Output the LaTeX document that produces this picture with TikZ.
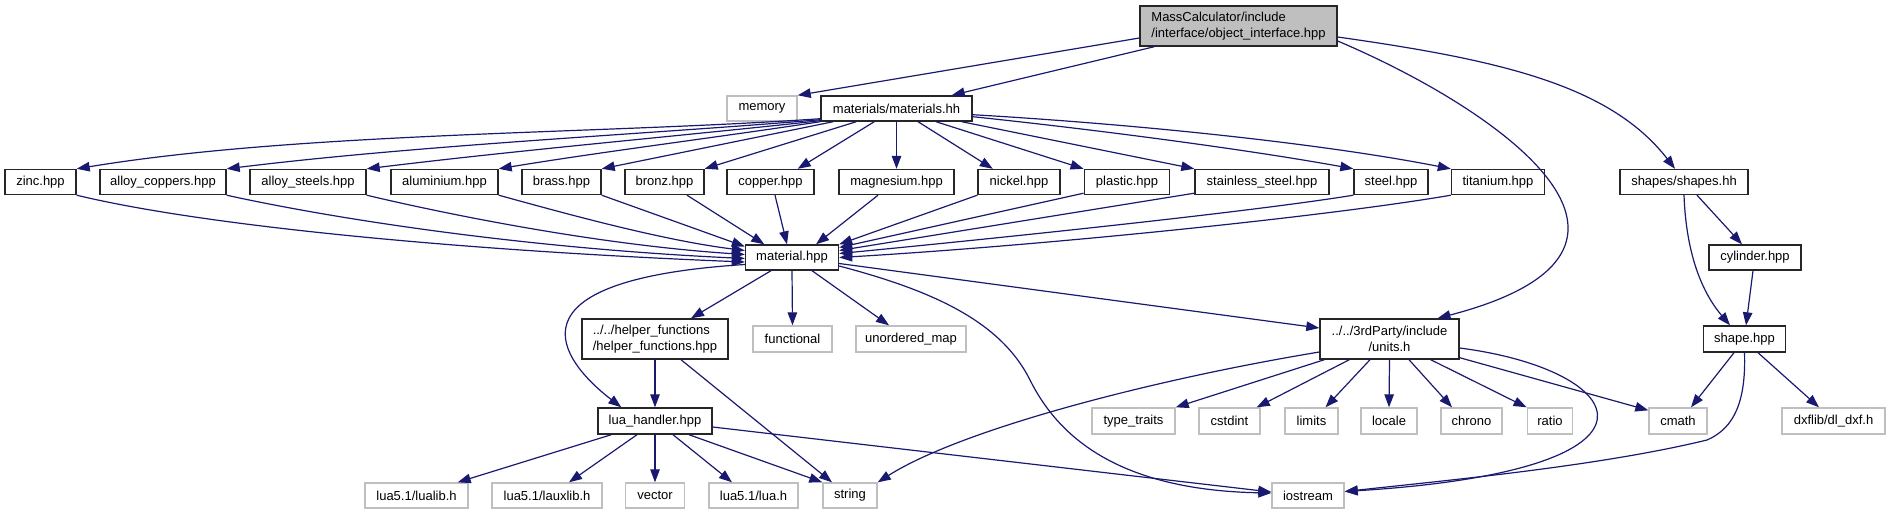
\documentclass[tikz,border=0pt]{standalone}
\usepackage{fontspec}
\setmainfont{Liberation Sans}
\usetikzlibrary{arrows.meta}
\definecolor{edgeblue}{HTML}{191970}
\definecolor{greyfill}{HTML}{BFBFBF}
\definecolor{greyline}{HTML}{BFBFBF}
\tikzset{
  fbox/.style={draw=black!85, line width=1.4pt, fill=white, inner sep=0pt, font=\fontsize{13}{16}\selectfont, text=black, minimum height=25pt},
  gbox/.style={fbox, draw=greyline},
  rbox/.style={fbox, fill=greyfill},
  dep/.style={draw=edgeblue, line width=1.2pt, -{Triangle[length=13pt,width=9.5pt]}},
}
\begin{document}
\begin{tikzpicture}[x=1pt,y=-1pt]
\useasboundingbox (0,0) rectangle (1892,515);
% row 0
\node[rbox, minimum width=197pt, minimum height=40pt, align=left] (root) at (1238.5,26) {MassCalculator/include\\/interface/object\_interface.hpp};
% row 1
\node[gbox, minimum width=70pt] (memory) at (762,108.5) {memory};
\node[fbox, minimum width=151pt] (materials) at (896.5,108.5) {materials/materials.hh};
% row 2
\node[fbox, minimum width=71pt] (zinc) at (40.5,182) {zinc.hpp};
\node[fbox, minimum width=126pt] (acop) at (163,182) {alloy\_coppers.hpp};
\node[fbox, minimum width=116pt] (asteel) at (308,182) {alloy\_steels.hpp};
\node[fbox, minimum width=107pt] (alu) at (444.5,182) {aluminium.hpp};
\node[fbox, minimum width=79pt] (brass) at (561.5,182) {brass.hpp};
\node[fbox, minimum width=79pt] (bronz) at (664.5,182) {bronz.hpp};
\node[fbox, minimum width=87pt] (copper) at (770.5,182) {copper.hpp};
\node[fbox, minimum width=115pt] (magn) at (896.5,182) {magnesium.hpp};
\node[fbox, minimum width=82pt] (nickel) at (1019,182) {nickel.hpp};
\node[fbox, minimum width=85.5pt] (plastic) at (1127,182) {plastic.hpp};
\node[fbox, minimum width=134pt] (stain) at (1262,182) {stainless\_steel.hpp};
\node[fbox, minimum width=74pt] (steel) at (1391,182) {steel.hpp};
\node[fbox, minimum width=93pt] (titan) at (1498,182) {titanium.hpp};
\node[fbox, minimum width=128pt] (shapes) at (1684,182) {shapes/shapes.hh};
% row 3
\node[fbox, minimum width=93pt] (material) at (792,257.5) {material.hpp};
\node[fbox, minimum width=92pt] (cyl) at (1755,257.5) {cylinder.hpp};
% row 4
\node[fbox, minimum width=146pt, minimum height=40pt, align=left] (helper) at (655,339) {../../helper\_functions\\/helper\_functions.hpp};
\node[gbox, minimum width=79pt, minimum height=26pt] (functional) at (792.5,339) {functional};
\node[gbox, minimum width=110pt, minimum height=26pt] (umap) at (911,339) {unordered\_map};
\node[fbox, minimum width=139pt, minimum height=40pt, align=center] (units) at (1389.5,339) {../../3rdParty/include\\/units.h};
\node[fbox, minimum width=82pt, minimum height=26pt] (shape) at (1744.5,339) {shape.hpp};
% row 5
\node[fbox, minimum width=114pt, minimum height=26pt] (lua) at (655,421) {lua\_handler.hpp};
\node[gbox, minimum width=83pt, minimum height=26pt] (ttraits) at (1133.5,421) {type\_traits};
\node[gbox, minimum width=61pt, minimum height=26pt] (cstdint) at (1229.5,421) {cstdint};
\node[gbox, minimum width=53pt, minimum height=26pt] (limits) at (1311.5,421) {limits};
\node[gbox, minimum width=56pt, minimum height=26pt] (locale) at (1389,421) {locale};
\node[gbox, minimum width=61pt, minimum height=26pt] (chrono) at (1471.5,421) {chrono};
\node[gbox, minimum width=45.5pt, minimum height=26pt] (ratio) at (1550,421) {ratio};
\node[gbox, minimum width=58pt, minimum height=26pt] (cmath) at (1678,421) {cmath};
\node[gbox, minimum width=103pt, minimum height=26pt] (dxf) at (1833.5,421) {dxflib/dl\_dxf.h};
% row 6
\node[gbox, minimum width=103pt] (lualib) at (416.5,495.5) {lua5.1/lualib.h};
\node[gbox, minimum width=110pt] (lauxlib) at (547,495.5) {lua5.1/lauxlib.h};
\node[gbox, minimum width=58.5pt] (vector) at (655,495.5) {vector};
\node[gbox, minimum width=89pt] (luah) at (753.5,495.5) {lua5.1/lua.h};
\node[gbox, minimum width=54pt] (string) at (850,495.5) {string};
\node[gbox, minimum width=72pt] (iostream) at (1308,495.5) {iostream};

% ---- edges from root
\draw[dep] ([yshift=-12pt]root.west) -- (memory.north east);
\draw[dep] ([xshift=15pt]root.south west) -- ([xshift=-21pt]materials.north east);
\draw[dep] ([yshift=-15pt]root.east) .. controls (1500,110) and (1700,250) .. ([xshift=48pt]units.north);
\draw[dep] ([yshift=-11pt]root.east) .. controls (1500,60) and (1610,85) .. ([xshift=-9pt]shapes.north);

% ---- materials.hh -> files
\draw[dep] ([yshift=3pt]materials.south west) .. controls (600,134) and (300,132) .. (zinc.north east);
\draw[dep] ([yshift=2pt]materials.south west) .. controls (650,134) and (420,145) .. (acop.north east);
\draw[dep] ([yshift=1pt]materials.south west) .. controls (680,136) and (520,150) .. (asteel.north east);
\draw[dep] (materials.south west) .. controls (720,137) and (600,152) .. (alu.north east);
\draw[dep] ([xshift=13pt]materials.south west) -- (brass.north east);
\draw[dep] ([xshift=36pt]materials.south west) -- (bronz.north east);
\draw[dep] ([xshift=54pt]materials.south west) -- ([xshift=-17pt]copper.north east);
\draw[dep] (materials.south) -- (magn.north);
\draw[dep] ([xshift=21.5pt]materials.south) -- ([xshift=15.5pt]nickel.north west);
\draw[dep] ([xshift=39.5pt]materials.south) -- (plastic.north west);
\draw[dep] ([xshift=-11pt]materials.south east) -- (stain.north west);
\draw[dep] ([yshift=5pt]materials.south east) .. controls (1100,130) and (1250,150) .. (steel.north west);
\draw[dep] ([yshift=7pt]materials.south east) .. controls (1150,125) and (1330,145) .. (titan.north west);

% ---- files -> material.hpp
\draw[dep] (zinc.south east) .. controls (200,225) and (450,250) .. ([yshift=-4.5pt]material.west);
\draw[dep] (acop.south east) .. controls (330,218) and (520,248) .. ([yshift=-1pt]material.west);
\draw[dep] (asteel.south east) .. controls (450,215) and (600,245) .. ([yshift=3pt]material.west);
\draw[dep] (alu.south east) .. controls (560,212) and (660,240) .. ([yshift=7pt]material.west);
\draw[dep] (brass.south east) -- ([yshift=11pt]material.west);
\draw[dep] ([xshift=22.5pt]bronz.south) -- ([xshift=19.5pt]material.north west);
\draw[dep] ([xshift=4.5pt]copper.south) -- ([xshift=-5pt]material.north);
\draw[dep] ([xshift=-18.5pt]magn.south) -- ([xshift=24pt]material.north);
\draw[dep] (nickel.south west) -- (material.north east);
\draw[dep] ([yshift=2pt]plastic.south west) -- ([yshift=10pt]material.east);
\draw[dep] ([yshift=2pt]stain.south west) -- ([yshift=7pt]material.east);
\draw[dep] (steel.south west) .. controls (1250,212) and (1000,238) .. ([yshift=4pt]material.east);
\draw[dep] (titan.south west) .. controls (1330,216) and (1050,245) .. (material.east);

% ---- material.hpp out
\draw[dep] ([yshift=-7pt]material.west) .. controls (500,280) and (560,360) .. ([xshift=24pt]lua.north west);
\draw[dep] ([xshift=-21pt]material.south) -- ([xshift=36pt]helper.north);
\draw[dep] (material.south) -- (functional.north);
\draw[dep] ([xshift=20pt]material.south) -- ([xshift=-22pt]umap.north);
\draw[dep] ([yshift=-8.5pt]material.east) .. controls (930,290) and (1000,320) .. (1030,380) .. controls (1055,430) and (1110,490) .. ([yshift=2.5pt]iostream.west);
\draw[dep] ([yshift=-6pt]material.east) -- ([yshift=11pt]units.west);

% ---- helper
\draw[dep] (helper.south) -- (lua.north);
\draw[dep] ([xshift=26pt]helper.south) -- ([xshift=-18pt]string.north);

% ---- lua_handler
\draw[dep] ([xshift=14pt]lua.south west) -- ([xshift=-11pt]lualib.north east);
\draw[dep] ([xshift=-18pt]lua.south) -- ([xshift=22pt]lauxlib.north);
\draw[dep] (lua.south) -- (vector.north);
\draw[dep] ([xshift=18pt]lua.south) -- ([xshift=-21.5pt]luah.north);
\draw[dep] ([xshift=34pt]lua.south) -- (string.north west);
\draw[dep] ([yshift=-6pt]lua.east) -- ([yshift=3.5pt]iostream.west);

% ---- units.h
\draw[dep] ([yshift=-13pt]units.west) .. controls (1150,380) and (960,430) .. (string.north east);
\draw[dep] ([xshift=5pt]units.south west) -- (ttraits.north east);
\draw[dep] ([xshift=30pt]units.south west) -- ([xshift=-4pt]cstdint.north east);
\draw[dep] ([xshift=-19.5pt]units.south) -- ([xshift=14pt]limits.north);
\draw[dep] (units.south) -- (locale.north);
\draw[dep] ([xshift=19.5pt]units.south) -- ([xshift=-19.5pt]chrono.north);
\draw[dep] ([xshift=-29pt]units.south east) -- (ratio.north west);
\draw[dep] ([yshift=2pt]units.south east) -- ([yshift=-3pt]cmath.north west);
\draw[dep] ([yshift=-9pt]units.east) .. controls (1630,370) and (1690,470) .. ([yshift=4pt]iostream.east);

% ---- shapes
\draw[dep] ([xshift=13pt]shapes.south) -- ([xshift=-13pt]cyl.north);
\draw[dep] (shapes.south) .. controls (1686,250) and (1700,290) .. ([xshift=-14.5pt]shape.north);
\draw[dep] ([xshift=-2pt]cyl.south) -- ([xshift=1.5pt]shape.north);
\draw[dep] ([xshift=-10.5pt]shape.south) -- ([xshift=13pt]cmath.north);
\draw[dep] ([xshift=13.5pt]shape.south) -- ([xshift=-14.5pt]dxf.north);
\draw[dep] (shape.south) .. controls (1746,400) and (1735,428) .. (1707,440) .. controls (1600,466) and (1450,480) .. ([yshift=4pt]iostream.east);
\end{tikzpicture}
\end{document}
